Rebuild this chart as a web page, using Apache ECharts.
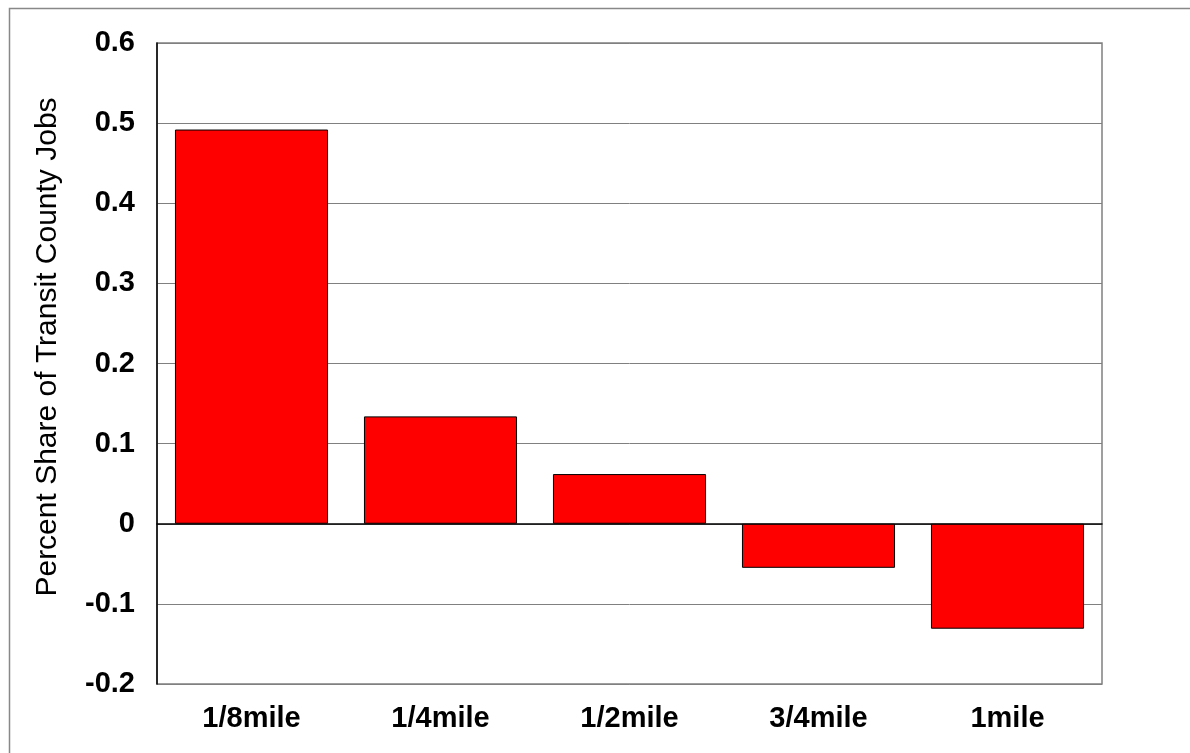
<!DOCTYPE html>
<html><head><meta charset="utf-8">
<script src="https://cdn.jsdelivr.net/npm/echarts@6/dist/echarts.min.js"></script>
<style>html,body{margin:0;padding:0;background:#fff}#c{width:1190px;height:753px}</style>
</head><body><div id="c"></div>
<script>
const categories = ['1/8mile', '1/4mile', '1/2mile', '3/4mile', '1mile'];
const values = [0.492, 0.134, 0.062, -0.055, -0.131];
const yTicks = { min: -0.2, max: 0.6, interval: 0.1 };
const yName = 'Percent Share of Transit County Jobs';

const FONT = 'Liberation Sans, Arial, sans-serif';
const chart = echarts.init(document.getElementById('c'), null, { renderer: 'canvas' });
chart.setOption({
  animation: false,
  backgroundColor: '#fff',
  graphic: [{
    type: 'rect', left: 7, top: 6,
    shape: { width: 1200, height: 760 },
    style: { fill: 'none', stroke: '#888', lineWidth: 1.5 },
    z: -1
  }, {
    type: 'text', x: 48, y: 347, rotation: Math.PI / 2,
    style: { text: yName, fill: '#000', font: '30px ' + FONT, align: 'center', verticalAlign: 'middle' }
  }],
  grid: { left: 157, right: 88, top: 43, bottom: 69, show: true, borderColor: '#808080', borderWidth: 1.5, backgroundColor: 'transparent' },
  xAxis: [{
    type: 'category', data: categories,
    axisLine: { onZero: true, lineStyle: { color: '#000', width: 1.5 } },
    axisTick: { show: false },
    axisLabel: { show: false }
  }, {
    type: 'category', data: categories, position: 'bottom',
    axisLine: { show: false, onZero: false }, axisTick: { show: false },
    axisLabel: { color: '#000', fontFamily: FONT, fontWeight: 'bold', fontSize: 29, margin: 20 }
  }],
  yAxis: {
    type: 'value', min: yTicks.min, max: yTicks.max, interval: yTicks.interval,
    axisLine: { show: true, lineStyle: { color: '#000', width: 1.5 } },
    axisTick: { show: false },
    axisLabel: { color: '#000', fontFamily: FONT, fontWeight: 'bold', fontSize: 29, margin: 22,
      formatter: v => { const r = Math.round(v * 10) / 10; return r === 0 ? '0' : String(r); } },
    splitLine: { show: true, lineStyle: { color: '#808080', width: 1 } }
  },
  series: [{
    type: 'bar', data: values, barCategoryGap: '19%',
    itemStyle: { color: '#ff0000', borderColor: '#000', borderWidth: 1 }
  }]
});
</script></body></html>
